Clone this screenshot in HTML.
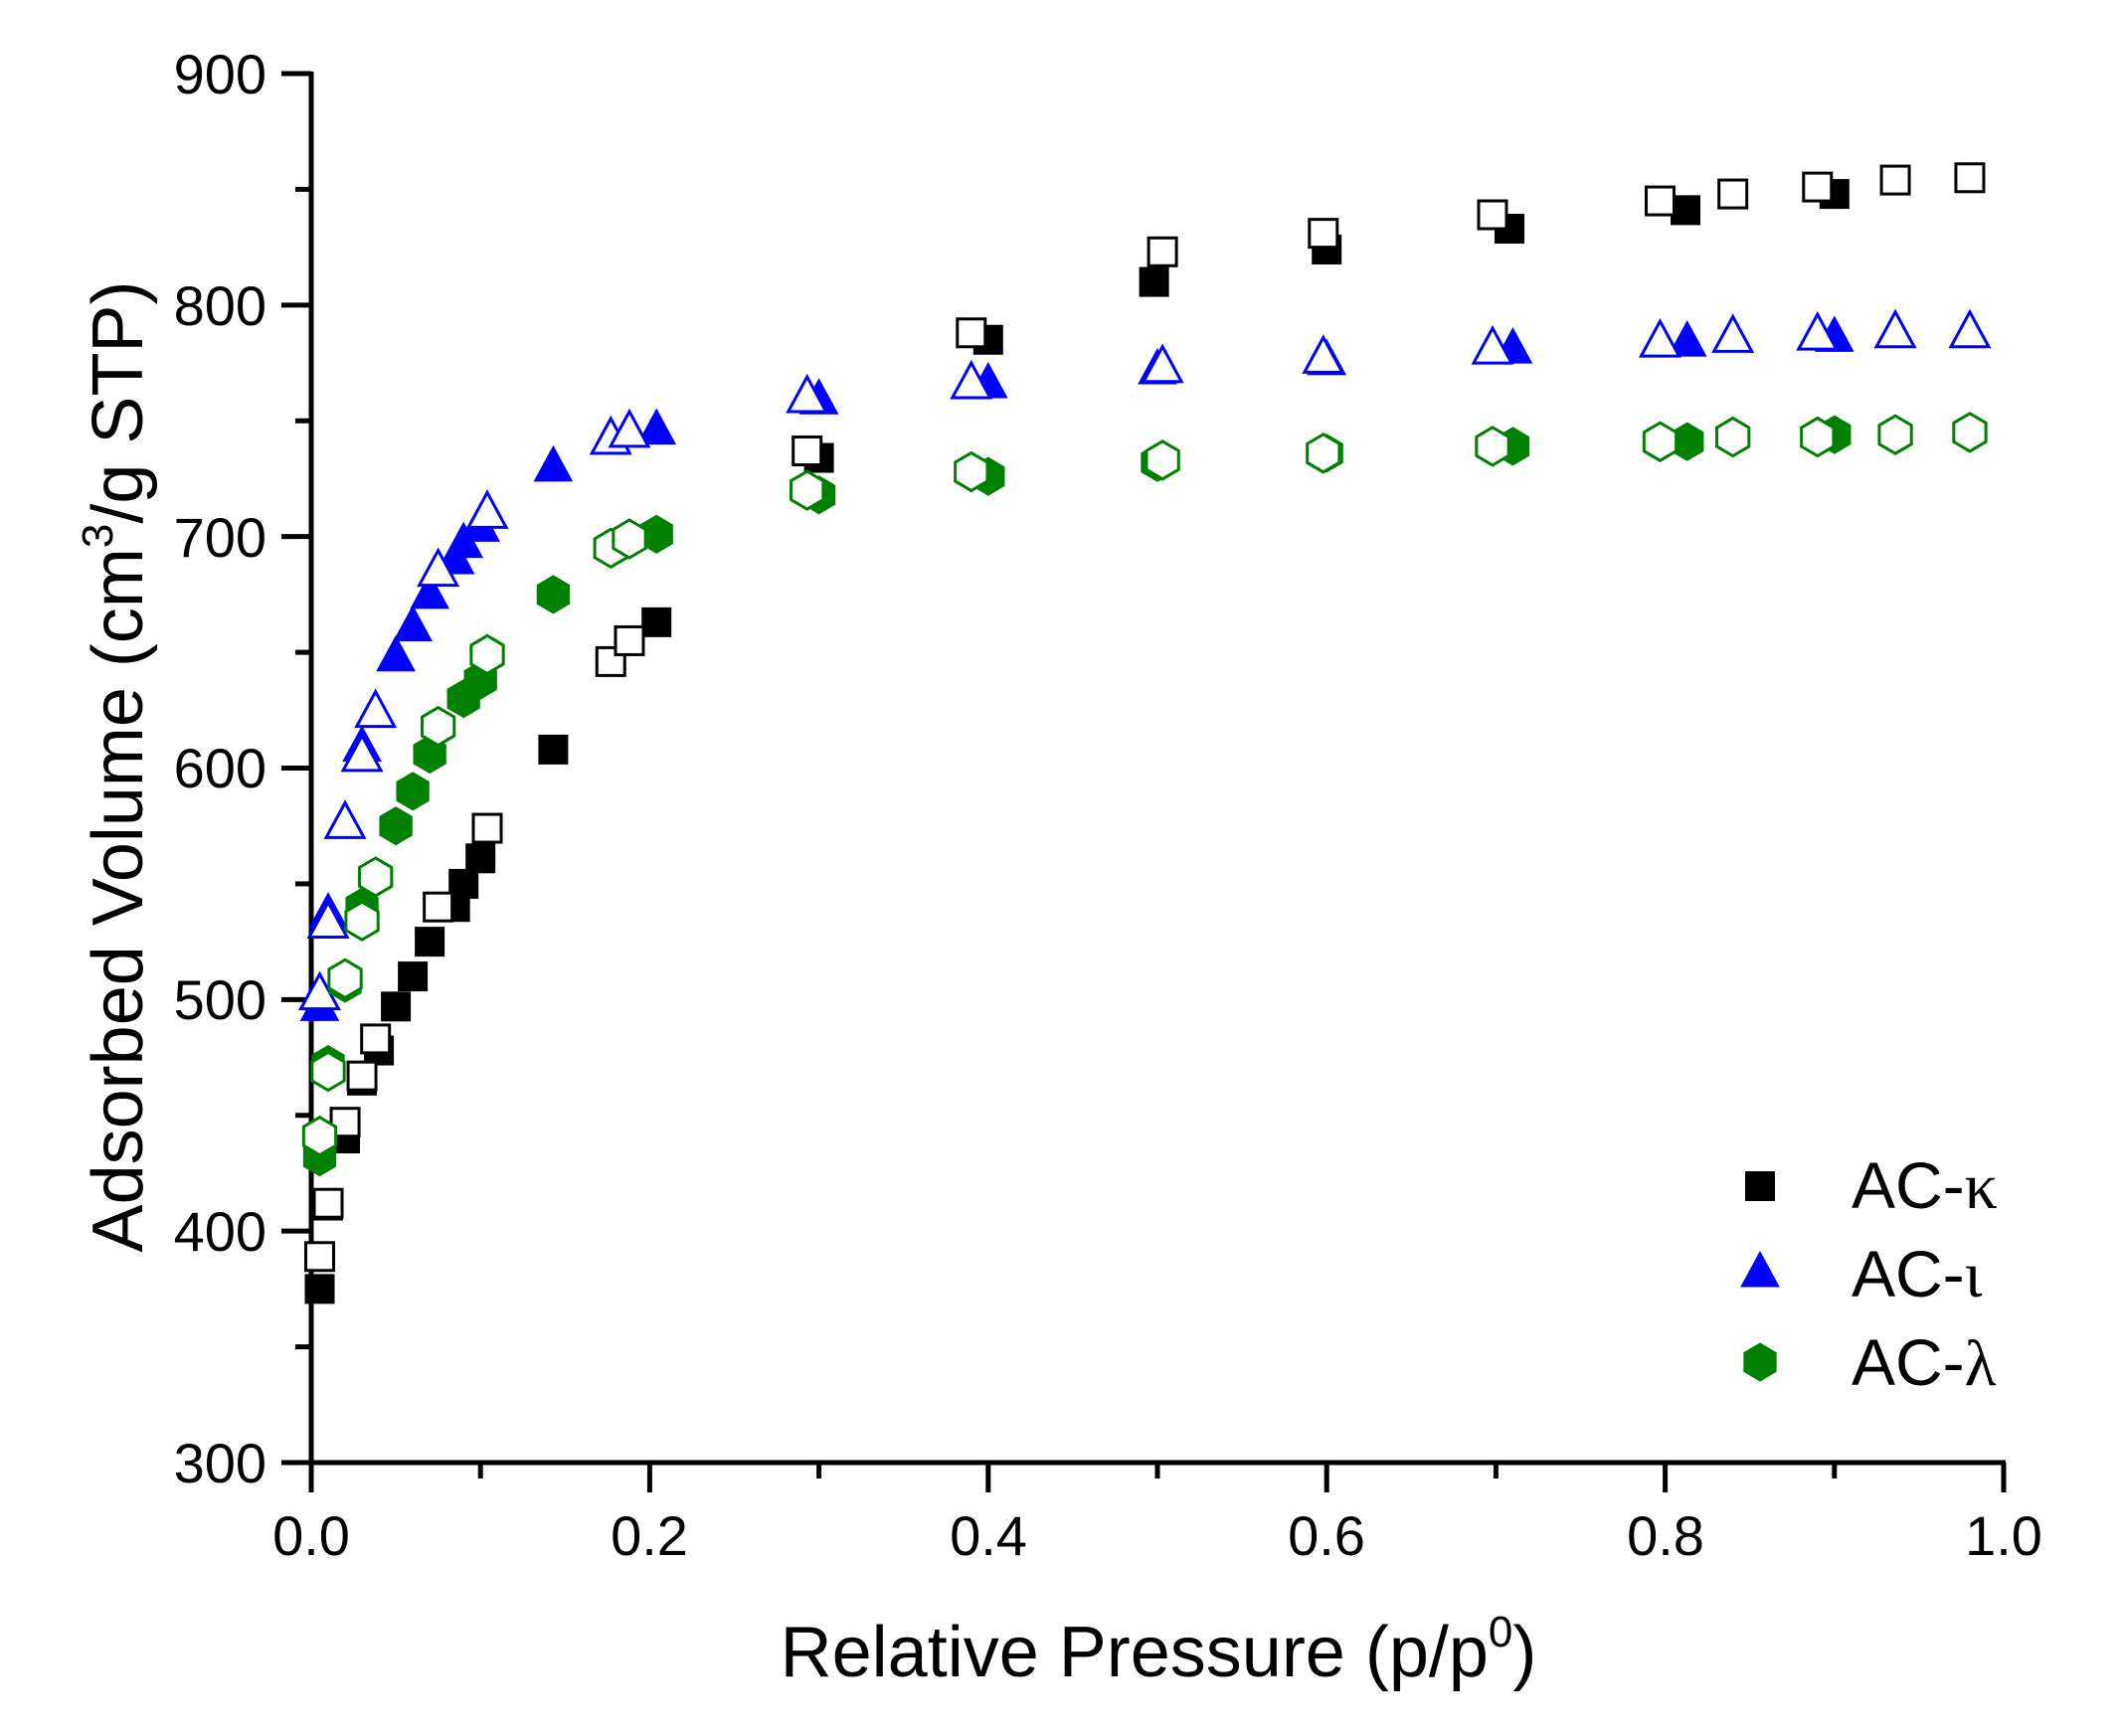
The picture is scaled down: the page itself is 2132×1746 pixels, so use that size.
<!DOCTYPE html>
<html><head><meta charset="utf-8"><style>
html,body{margin:0;padding:0;background:#fff;}
svg{display:block;}
text{font-family:"Liberation Sans",Arial,sans-serif;fill:#000;}
.g{font-family:"Liberation Serif","DejaVu Serif",serif;}
</style></head><body>
<svg id="s" width="2132" height="1746" xmlns="http://www.w3.org/2000/svg">
<g id="ax" stroke="#000" stroke-width="5" fill="none">
<line x1="313" y1="72" x2="313" y2="1473"/>
<line x1="311" y1="1471" x2="2017" y2="1471"/>
</g>
<g id="ticks" stroke="#000" stroke-width="5"></g>
<g font-size="56" text-anchor="end">
<text x="268" y="94">900</text>
<text x="268" y="327">800</text>
<text x="268" y="560">700</text>
<text x="268" y="792">600</text>
<text x="268" y="1025">500</text>
<text x="268" y="1258">400</text>
<text x="268" y="1491">300</text>
</g>
<g font-size="56" text-anchor="middle">
<text x="313" y="1564">0.0</text>
<text x="653" y="1564">0.2</text>
<text x="994" y="1564">0.4</text>
<text x="1334" y="1564">0.6</text>
<text x="1675" y="1564">0.8</text>
<text x="2015" y="1564">1.0</text>
</g>
<text x="1165" y="1686" font-size="72" text-anchor="middle">Relative Pressure (p/p<tspan font-size="44" dy="-30">0</tspan><tspan dy="30">)</tspan></text>
<text transform="translate(143,771) rotate(-90)" font-size="72" text-anchor="middle">Adsorbed Volume (cm<tspan font-size="44" dy="-30">3</tspan><tspan dy="30">/g STP)</tspan></text>
<g id="pts"></g>
<g font-size="66">
<text x="1862" y="1215">AC-<tspan class="g">κ</tspan></text>
<text x="1862" y="1304">AC-<tspan class="g">ι</tspan></text>
<text x="1862" y="1393">AC-<tspan class="g">λ</tspan></text>
</g>
</svg>
<script>
var X0=313,X1=2015,Y9=74,Y3=1471;
function px(x){return X0+x*(X1-X0);}
function py(y){return Y3-(y-300)/600*(Y3-Y9);}
var t=document.getElementById('ticks'),h='';
for(var v=300;v<=900;v+=50){var y=py(v),l=(v%100==0)?30:16;h+='<line x1="'+(313-l)+'" y1="'+y+'" x2="313" y2="'+y+'"/>';}
for(var i=0;i<=10;i++){var x=px(i/10),l=(i%2==0)?30:16;h+='<line x1="'+x+'" y1="1471" x2="'+x+'" y2="'+(1471+l)+'"/>';}
t.innerHTML=h;
function sq(x,y,f,c){var s=f?30:28;return '<rect x="'+(x-s/2)+'" y="'+(y-s/2)+'" width="'+s+'" height="'+s+'" fill="'+(f?c:'#fff')+'" stroke="'+c+'" stroke-width="'+(f?0:3)+'"/>';}
function tri(x,y,f,c){var w=38,hh=35;var p=[x,y-hh*0.6,x-w/2,y+hh*0.4,x+w/2,y+hh*0.4].join(',');return '<polygon points="'+p+'" fill="'+(f?c:'#fff')+'" stroke="'+c+'" stroke-width="'+(f?1:3)+'"/>';}
function hex(x,y,f,c){var p=[];for(var k=0;k<6;k++){var a=Math.PI/6+k*Math.PI/3;p.push(x+17*Math.cos(a)/0.866*0.95,y+19*Math.sin(a));}return '<polygon points="'+p.join(',')+'" fill="'+(f?c:'#fff')+'" stroke="'+c+'" stroke-width="'+(f?1:3)+'"/>';}
var kf=[[0.005,375],[0.01,411],[0.02,440],[0.03,465],[0.04,478],[0.05,497],[0.06,510],[0.07,525],[0.085,540],[0.09,550],[0.1,561],[0.143,608],[0.204,663],[0.3,734],[0.4,785],[0.498,810],[0.6,824],[0.708,833],[0.812,841],[0.9,848]];
var ko=[[0.005,389],[0.01,412],[0.02,447],[0.03,467],[0.038,483],[0.075,540],[0.104,574],[0.177,646],[0.188,655],[0.293,737],[0.39,788],[0.503,823],[0.598,831],[0.698,839],[0.797,845],[0.84,848],[0.89,851],[0.936,854],[0.98,855]];
var i_f=[[0.005,497],[0.01,537],[0.03,609],[0.05,648],[0.06,661],[0.07,675],[0.085,690],[0.09,697],[0.1,704],[0.143,730],[0.204,746],[0.3,759],[0.4,766],[0.5,772],[0.6,776],[0.71,781],[0.813,784],[0.9,786]];
var io=[[0.005,502],[0.01,533],[0.02,576],[0.03,605],[0.038,624],[0.075,685],[0.104,710],[0.177,742],[0.188,745],[0.293,760],[0.39,766],[0.503,773],[0.598,777],[0.698,781],[0.797,784],[0.84,786],[0.89,787],[0.936,788],[0.98,788]];
var lf=[[0.005,432],[0.01,472],[0.02,507],[0.03,540],[0.05,575],[0.06,590],[0.07,606],[0.09,630],[0.1,638],[0.143,675],[0.204,701],[0.3,718],[0.4,726],[0.5,732],[0.6,736],[0.71,739],[0.813,741],[0.9,744]];
var lo=[[0.005,441],[0.01,469],[0.02,509],[0.03,534],[0.038,553],[0.075,618],[0.104,649],[0.177,695],[0.188,699],[0.293,720],[0.39,728],[0.503,733],[0.598,736],[0.698,739],[0.797,741],[0.84,743],[0.89,743],[0.936,744],[0.98,745]];
var g='';
function draw(d,fn,f,c){d.forEach(function(p){g+=fn(px(p[0]),py(p[1]),f,c);});}
draw(kf,sq,1,'#000');draw(ko,sq,0,'#000');
draw(i_f,tri,1,'#0000ff');draw(io,tri,0,'#0000ff');
draw(lf,hex,1,'#008000');draw(lo,hex,0,'#008000');
g+=sq(1770,1193,1,'#000')+tri(1770,1280,1,'#0000ff')+hex(1770,1370,1,'#008000');
document.getElementById('pts').innerHTML=g;
</script>
</body></html>
